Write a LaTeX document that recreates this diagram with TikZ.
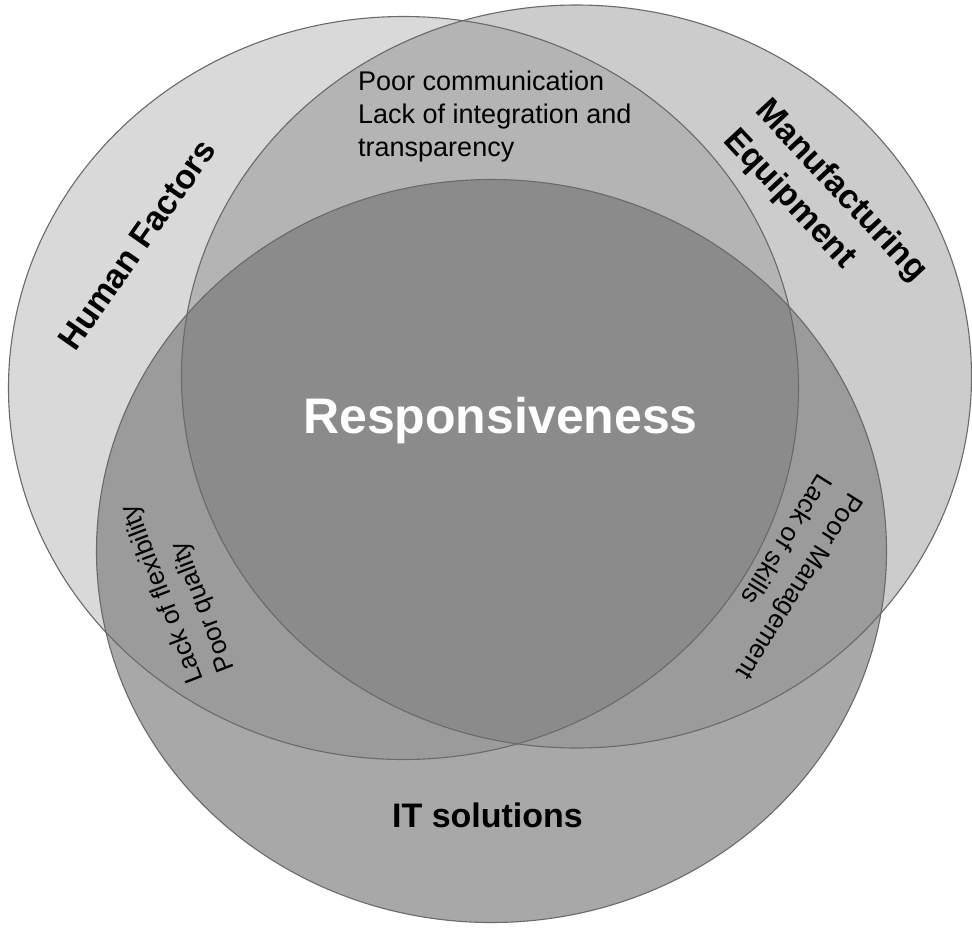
\documentclass[tikz,border=0pt]{standalone}
\usepackage{fontspec}
\setmainfont{Liberation Sans}
\definecolor{cL}{HTML}{D9D9D9}
\definecolor{cR}{HTML}{CCCCCC}
\definecolor{cB}{HTML}{A8A8A8}
\definecolor{cLR}{HTML}{B4B4B4}
\definecolor{cLB}{HTML}{9B9B9B}
\definecolor{cRB}{HTML}{9B9B9B}
\definecolor{cAll}{HTML}{8B8B8B}
\definecolor{edge}{HTML}{6A6A6A}
\begin{document}
\begin{tikzpicture}[x=1pt,y=-1pt,
  myell/.style={x radius=395pt, y radius=371.5pt},
  outline/.style={draw=edge, line width=1.1pt},
  small/.style={font=\fontsize{26}{33}\selectfont, align=left, inner sep=0pt},
  title/.style={font=\fontsize{34}{43}\selectfont\bfseries, align=left, inner sep=0pt}]
\useasboundingbox (0,0) rectangle (972,930);
\coordinate (cl) at (403.5,388);
\coordinate (cr) at (576.5,376.5);
\coordinate (cb) at (491.5,551);
% base fills
\fill[cL] (cl) ellipse [myell];
\fill[cR] (cr) ellipse [myell];
\fill[cB] (cb) ellipse [myell];
% overlaps
\begin{scope}
  \clip (cl) ellipse [myell];
  \fill[cLR] (cr) ellipse [myell];
  \fill[cLB] (cb) ellipse [myell];
\end{scope}
\begin{scope}
  \clip (cr) ellipse [myell];
  \fill[cRB] (cb) ellipse [myell];
  \clip (cl) ellipse [myell];
  \fill[cAll] (cb) ellipse [myell];
\end{scope}
% outlines
\draw[outline] (cl) ellipse [myell];
\draw[outline] (cr) ellipse [myell];
\draw[outline] (cb) ellipse [myell];
% texts
\node[small, font=\fontsize{27}{33}\selectfont, anchor=north west] (comm) at (358,71) {Poor communication\\Lack of integration and\\transparency};
\node[title, rotate=55] (hf) at (137,245) {Human Factors};
\node[title, rotate=-47] (me) at (825,206) {Manufacturing\\Equipment};
\node[font=\fontsize{50}{50}\selectfont\bfseries, text=white, anchor=base, inner sep=0pt] (resp) at (500.5,433) {Responsiveness};
\node[title, anchor=base] (it) at (487.5,827) {IT solutions};
\node[small, rotate=111] (lf) at (179,588) {Lack of flexibility\\Poor quality};
\node[small, font=\fontsize{26}{36}\selectfont, rotate=-122] (pm) at (785,577) {Poor Management\\Lack of skills};
\end{tikzpicture}
\end{document}
